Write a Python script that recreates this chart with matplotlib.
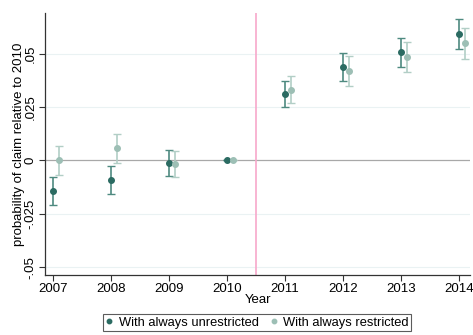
import matplotlib
matplotlib.use("Agg")
import matplotlib.pyplot as plt
import numpy as np

plt.rcParams['font.family'] = ['Liberation Sans', 'DejaVu Sans']

years = [2007, 2008, 2009, 2010, 2011, 2012, 2013, 2014]
unres = [-0.0142, -0.0090, -0.0013, 0.0, 0.0311, 0.0437, 0.0506, 0.0591]
unres_lo = [-0.0211, -0.0156, -0.0073, 0.0, 0.0250, 0.0370, 0.0437, 0.0520]
unres_hi = [-0.0077, -0.0027, 0.0048, 0.0, 0.0374, 0.0505, 0.0573, 0.0660]
res = [0.0, 0.0058, -0.0017, 0.0, 0.0331, 0.0419, 0.0484, 0.0550]
res_lo = [-0.0070, -0.0010, -0.0078, 0.0, 0.0269, 0.0348, 0.0414, 0.0477]
res_hi = [0.0069, 0.0125, 0.0044, 0.0, 0.0395, 0.0489, 0.0555, 0.0620]
yticks = [-0.05, -0.025, 0, 0.025, 0.05]
ytick_labels = ["-.05", "-.025", "0", ".025", ".05"]
labels = ["With always unrestricted", "With always restricted"]

dark = "#2b6b62"
light = "#9dbfb5"

fig = plt.figure(figsize=(4.73, 3.35), dpi=100)
ax = fig.add_axes([0.0951, 0.179, 0.8986, 0.782])

for y in [-0.05, -0.025, 0.025, 0.05]:
    ax.axhline(y, color="#eaf2f3", lw=0.8, zorder=0)
ax.axhline(0, color="#a8a8a8", lw=0.9, zorder=1)
ax.axvline(2010.5, color="#f7a8cb", lw=1.2, zorder=1)

x = np.array(years, dtype=float)
off = 0.11
u = np.array(unres); r = np.array(res)
ax.errorbar(x, u, yerr=[u - np.array(unres_lo), np.array(unres_hi) - u],
            fmt='none', ecolor="#4e8a80", elinewidth=1.2, capsize=2.6, capthick=1.0, zorder=2)
ax.errorbar(x + off, r, yerr=[r - np.array(res_lo), np.array(res_hi) - r],
            fmt='none', ecolor="#b2cec6", elinewidth=1.2, capsize=2.6, capthick=1.0, zorder=2)
h1, = ax.plot(x, u, 'o', color=dark, ms=4, zorder=3, label=labels[0])
h2, = ax.plot(x + off, r, 'o', color=light, ms=4, zorder=3, label=labels[1])

ax.set_xlim(2006.862, 2014.19)
ax.set_ylim(-0.0537, 0.069)
ax.set_xticks(years)
ax.set_xticklabels([str(y) for y in years], fontsize=9.5)
ax.set_yticks(yticks)
ax.set_yticklabels(ytick_labels, fontsize=9.5, rotation=90, va='center')
ax.tick_params(length=4, width=0.8, color="#333333", pad=2)
for s in ["top", "right"]:
    ax.spines[s].set_visible(False)
for s in ["left", "bottom"]:
    ax.spines[s].set_color("#333333")
    ax.spines[s].set_linewidth(0.9)

ax.set_xlabel("Year", fontsize=9.5, labelpad=-1)
ax.set_ylabel("probability of claim relative to 2010", fontsize=9.5, labelpad=0)

leg = fig.legend(handles=[h1, h2], labels=labels, loc='upper left',
                 bbox_to_anchor=(103/473, 1 - 314/335), ncol=2, fontsize=9.3,
                 frameon=True, fancybox=False, edgecolor="#333333",
                 handlelength=0.6, handletextpad=0.4, columnspacing=0.9,
                 markerscale=0.8, borderpad=0.2, borderaxespad=0)
leg.get_frame().set_linewidth(0.8)

fig.savefig("out.png", dpi=100)
